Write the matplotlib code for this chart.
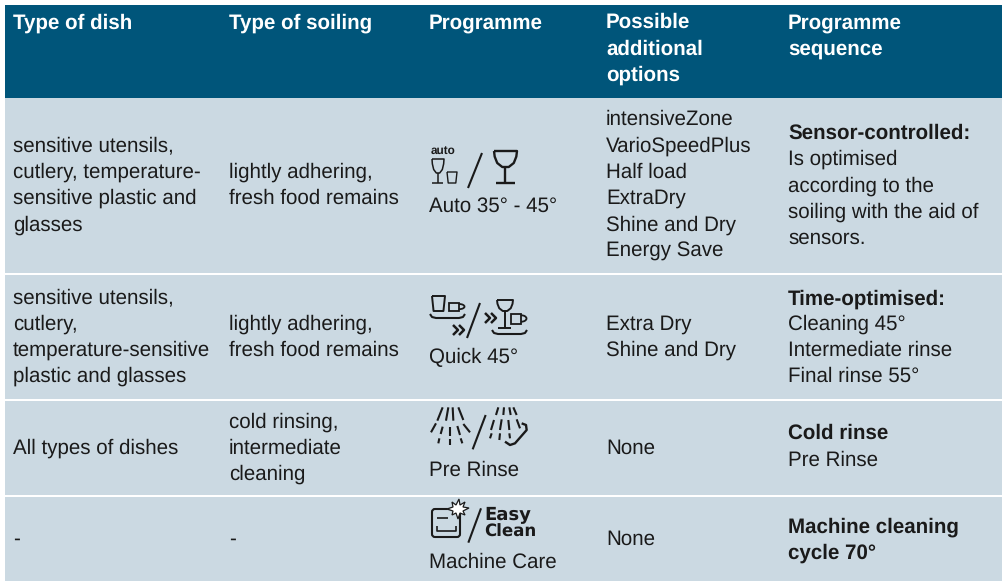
import matplotlib
matplotlib.use('Agg')
import matplotlib.pyplot as plt
from matplotlib.patches import Rectangle, Polygon, Arc, FancyBboxPatch

plt.rcParams['text.hinting'] = 'none'

# table content
col_x = [13, 229, 429, 606, 788]
headers = ['Type of dish', 'Type of soiling', 'Programme', 'Possible\nadditional\noptions', 'Programme\nsequence']
row_tops = [98, 275, 401, 497]
row_bottoms = [273, 399, 495, 581]

dish = ['sensitive utensils,\ncutlery, temperature-\nsensitive plastic and\nglasses',
        'sensitive utensils,\ncutlery,\ntemperature-sensitive\nplastic and glasses',
        'All types of dishes',
        '-']
soiling = ['lightly adhering,\nfresh food remains',
           'lightly adhering,\nfresh food remains',
           'cold rinsing,\nintermediate\ncleaning',
           '-']
programme = ['Auto 35° - 45°', 'Quick 45°', 'Pre Rinse', 'Machine Care']
programme_y = [206, 358, 470, 562]
options = ['intensiveZone\nVarioSpeedPlus\nHalf load\nExtraDry\nShine and Dry\nEnergy Save',
           'Extra Dry\nShine and Dry',
           'None',
           'None']
seq_bold = ['Sensor-controlled:', 'Time-optimised:', 'Cold rinse', 'Machine cleaning\ncycle 70°']
seq_text = ['Is optimised\naccording to the\nsoiling with the aid of\nsensors.',
            'Cleaning 45°\nIntermediate rinse\nFinal rinse 55°',
            'Pre Rinse',
            '']
seq_bold_y = [133, 299, 433, 540]
seq_text_y = [199, 350, 460, 0]

HEAD = '#00557a'
ROW = '#cbd9e2'
INK = '#1a1a1a'
FONT = ['Liberation Sans', 'DejaVu Sans']
SIZE = 14.8
SPACING = 1.44

fig = plt.figure(figsize=(10.02, 5.81), dpi=100)
ax = fig.add_axes([0, 0, 1, 1])
ax.set_xlim(0, 1002)
ax.set_ylim(581, 0)
ax.axis('off')

ax.add_patch(Rectangle((5, 5), 997, 93, color=HEAD, lw=0))
for top, bottom in zip(row_tops, row_bottoms):
    ax.add_patch(Rectangle((5, top), 997, bottom - top, color=ROW, lw=0))


def put(x, y, s, **kw):
    ax.text(x, y, s, family=FONT, fontsize=SIZE, color=kw.pop('color', INK), linespacing=SPACING, va='center', **kw)


header_y = [23, 23, 23, 49, 36]
for x, y, h in zip(col_x, header_y, headers):
    put(x, y, h, color='white', weight='bold')

for i in range(4):
    mid = (row_tops[i] + row_bottoms[i]) / 2
    put(col_x[0], mid, dish[i])
    put(col_x[1], mid, soiling[i])
    put(col_x[2], programme_y[i], programme[i])
    put(col_x[3], mid, options[i])
    put(col_x[4], seq_bold_y[i], seq_bold[i], weight='bold')
    if seq_text[i]:
        put(col_x[4], seq_text_y[i], seq_text[i])


# icon helpers, pixel coordinates
def line(xs, ys, lw=1.4):
    ax.plot(xs, ys, color=INK, lw=lw, solid_capstyle='butt', solid_joinstyle='round')


def glass(cx, top, w, stem_y, foot_y, foot_w, lw=1.4):
    d = stem_y - top
    offs = [-0.5, -0.47, -0.36, -0.14, 0.14, 0.36, 0.47, 0.5]
    fracs = [0, 0.35, 0.75, 1, 1, 0.75, 0.35, 0]
    xs = [cx + o * w for o in offs]
    ys = [top + f * d for f in fracs]
    line(xs + [xs[0]], ys + [top], lw)
    line([cx, cx], [stem_y, foot_y], lw)
    line([cx - foot_w / 2, cx + foot_w / 2], [foot_y, foot_y], lw)


def cup(x0, y0, w, h, lw=1.2):
    line([x0, x0 + 0.12 * w, x0 + 0.88 * w, x0 + w, x0], [y0, y0 + h, y0 + h, y0, y0], lw)


def mug(x0, y0, w, h, lw=1.3):
    ax.add_patch(Rectangle((x0, y0), w, h, fill=False, ec=INK, lw=lw))
    ax.add_patch(Arc((x0 + w, y0 + h * 0.45), 11, h * 0.65, theta1=-90, theta2=90, ec=INK, lw=lw))


def tray(x0, x1, y, lw=1.5):
    line([x0, x0 + 2, x0 + 6, x1 - 6, x1 - 2, x1], [y - 4, y - 1, y, y, y - 1, y - 4], lw)


def chevrons(x, y, lw=1.8):
    for dx in (0, 6):
        line([x + dx, x + dx + 5, x + dx], [y - 5, y, y + 5], lw)


# strokes measured on a 3x crop, origin passed in
def strokes(segs, ox, oy, lw=1.5):
    for seg in segs:
        line([ox + p[0] / 3 for p in seg], [oy + p[1] / 3 for p in seg], lw)


# row 1 icons
ax.text(431, 151, 'auto', family='Liberation Sans', fontsize=8.5, weight='bold', color=INK, va='center')
glass(438, 159, 12, 173, 183, 11, 1.1)
cup(447, 172, 10, 11, 1.0)
line([468, 482], [188, 153], 1.5)
glass(505.5, 151, 23, 167, 183, 19, 1.7)

# row 2 icons
cup(432, 296, 13, 15, 1.4)
mug(449, 303, 10, 8)
tray(430, 465, 318)
chevrons(453, 330)
line([467, 480], [338, 303], 1.5)
chevrons(485, 318)
glass(505, 300, 16, 311, 328, 13, 1.4)
mug(511, 314, 10, 10)
tray(492, 527, 334)

# row 3 icons: spray patterns
spray_a = [[(68, 22), (52, 62)], [(85, 22), (78, 62)], [(98, 22), (100, 62)], [(115, 22), (130, 60)],
           [(48, 70), (33, 97)], [(68, 80), (62, 102)], [(90, 82), (90, 108)], [(112, 78), (120, 105)],
           [(130, 72), (150, 97)], [(58, 115), (55, 130)], [(90, 118), (90, 135)], [(122, 115), (127, 130)]]
spray_b = [[(235, 22), (228, 45)], [(252, 22), (250, 45)], [(268, 22), (272, 45)], [(280, 22), (290, 45)],
           [(222, 60), (213, 90)], [(245, 58), (240, 90)], [(265, 60), (268, 90)], [(290, 58), (300, 85)],
           [(215, 100), (210, 115)], [(240, 100), (238, 120)], [(268, 100), (270, 115)]]
strokes(spray_a + spray_b, 420, 400)
strokes([[(158, 148), (197, 45)]], 420, 400)
strokes([[(255, 125), (270, 135), (285, 130), (320, 90), (318, 75), (305, 70)]], 420, 400, 1.7)

# row 4 icons
ax.add_patch(FancyBboxPatch((432, 509), 28, 28, boxstyle='round,pad=0,rounding_size=3', fill=False, ec=INK, lw=1.5))
strokes([[(50, 85), (85, 85)], [(50, 108), (50, 122), (108, 122), (108, 108)]], 420, 490, 1.2)
star = [(459, 499), (460, 505), (465, 502), (463, 507), (469, 508), (463, 511), (465, 515), (460, 513), (458, 519),
        (456, 513), (452, 515), (453, 511), (447, 509), (453, 507), (452, 502), (456, 505)]
ax.add_patch(Polygon(star, closed=True, fc='white', ec=INK, lw=0.9, zorder=3))
strokes([[(145, 158), (183, 55)]], 420, 490)
ax.text(484, 515, 'Easy', family='DejaVu Sans', fontsize=13, weight='bold', color=INK, va='center')
ax.text(484, 532, 'Clean', family='DejaVu Sans', fontsize=12, weight='bold', color=INK, va='center')

fig.savefig('out.png', dpi=100)
